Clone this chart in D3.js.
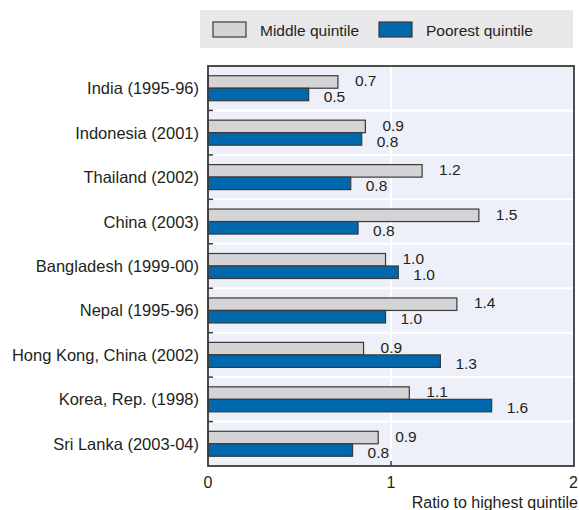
<!DOCTYPE html>
<html>
<head>
<meta charset="utf-8">
<script src="https://cdn.jsdelivr.net/npm/d3@7"></script>
<style>
  body { margin: 0; background: #fff; }
  text { font-family: "Liberation Sans", Arial, sans-serif; fill: #231f20; }
</style>
</head>
<body>
<div class="canvas"></div>
<script>
const countries = [
  'India (1995-96)', 'Indonesia (2001)', 'Thailand (2002)', 'China (2003)',
  'Bangladesh (1999-00)', 'Nepal (1995-96)', 'Hong Kong, China (2002)',
  'Korea, Rep. (1998)', 'Sri Lanka (2003-04)'
];
const middle = [0.71, 0.86, 1.17, 1.48, 0.97, 1.36, 0.85, 1.10, 0.93];
const poorest = [0.55, 0.84, 0.78, 0.82, 1.04, 0.97, 1.27, 1.55, 0.79];
const middleLabels = ['0.7', '0.9', '1.2', '1.5', '1.0', '1.4', '0.9', '1.1', '0.9'];
const poorestLabels = ['0.5', '0.8', '0.8', '0.8', '1.0', '1.0', '1.3', '1.6', '0.8'];
const seriesNames = ['Middle quintile', 'Poorest quintile'];
const xTicks = [0, 1, 2];

const colors = { middle: '#d4d4d6', poorest: '#0068ad' };
const W = 579, H = 510;

const svg = d3.select('.canvas')
  .append('svg')
  .attr('width', W)
  .attr('height', H);

// legend box
const legend = svg.append('g');
legend.append('rect')
  .attr('x', 200).attr('y', 10).attr('width', 373).attr('height', 38)
  .attr('fill', '#e8e8ea');
const legendItems = [
  { name: seriesNames[0], fill: colors.middle, x: 213 },
  { name: seriesNames[1], fill: colors.poorest, x: 379 }
];
legendItems.forEach(d => {
  legend.append('rect')
    .attr('x', d.x).attr('y', 22).attr('width', 33).attr('height', 15)
    .attr('fill', d.fill).attr('stroke', '#3a3a3a').attr('stroke-width', 1.2);
  legend.append('text')
    .attr('x', d.x + 47).attr('y', 35.5)
    .attr('font-size', 15.5)
    .text(d.name);
});

const m = { left: 208, right: 574, top: 66, bottom: 466 };

const x = d3.scaleLinear().domain([0, 2]).range([m.left, m.right]);
const y = d3.scaleBand().domain(countries).range([m.top, m.bottom]);

// plot background
svg.append('rect')
  .attr('x', m.left).attr('y', m.top)
  .attr('width', m.right - m.left).attr('height', m.bottom - m.top)
  .attr('fill', '#edf0f8');

// horizontal gridlines between groups
svg.append('g')
  .selectAll('line')
  .data(countries.slice(1))
  .join('line')
  .attr('x1', m.left).attr('x2', m.right)
  .attr('y1', d => y(d)).attr('y2', d => y(d))
  .attr('stroke', '#fff').attr('stroke-width', 2);

// vertical gridline
svg.append('line')
  .attr('x1', x(1)).attr('x2', x(1))
  .attr('y1', m.top).attr('y2', m.bottom)
  .attr('stroke', '#fff').attr('stroke-width', 2);

const barH = 12.5;
const groups = svg.append('g')
  .selectAll('g')
  .data(countries)
  .join('g')
  .attr('transform', d => `translate(0, ${y(d) + y.bandwidth() / 2})`);

groups.append('rect')
  .attr('x', x(0))
  .attr('y', -barH)
  .attr('width', (d, i) => x(middle[i]) - x(0))
  .attr('height', barH)
  .attr('fill', colors.middle)
  .attr('stroke', '#3a3a3a').attr('stroke-width', 1.2);

groups.append('rect')
  .attr('x', x(0))
  .attr('y', 0)
  .attr('width', (d, i) => x(poorest[i]) - x(0))
  .attr('height', barH)
  .attr('fill', colors.poorest)
  .attr('stroke', '#3a3a3a').attr('stroke-width', 1.2);

groups.append('text')
  .attr('x', (d, i) => x(middle[i]) + 17)
  .attr('y', -2)
  .attr('font-size', 15.5)
  .text((d, i) => middleLabels[i]);

groups.append('text')
  .attr('x', (d, i) => x(poorest[i]) + 15)
  .attr('y', 14)
  .attr('font-size', 15.5)
  .text((d, i) => poorestLabels[i]);

// category labels
groups.append('text')
  .attr('x', m.left - 9)
  .attr('y', 6)
  .attr('text-anchor', 'end')
  .attr('font-size', 16.5)
  .text(d => d);

// left ticks at group boundaries
svg.append('g')
  .selectAll('line')
  .data(countries.slice(1))
  .join('line')
  .attr('x1', m.left).attr('x2', m.left + 5)
  .attr('y1', d => y(d)).attr('y2', d => y(d))
  .attr('stroke', '#3a3a3a').attr('stroke-width', 1.5);

// bottom ticks
svg.append('g')
  .selectAll('line')
  .data(xTicks.slice(1, -1))
  .join('line')
  .attr('x1', d => x(d)).attr('x2', d => x(d))
  .attr('y1', m.bottom).attr('y2', m.bottom - 5)
  .attr('stroke', '#3a3a3a').attr('stroke-width', 1.5);

// frame
svg.append('rect')
  .attr('x', m.left).attr('y', m.top)
  .attr('width', m.right - m.left).attr('height', m.bottom - m.top)
  .attr('fill', 'none').attr('stroke', '#3a3a3a').attr('stroke-width', 1.8);

// x tick labels
svg.append('g')
  .selectAll('text')
  .data(xTicks)
  .join('text')
  .attr('x', d => x(d))
  .attr('y', 488)
  .attr('text-anchor', (d, i) => i === xTicks.length - 1 ? 'end' : 'middle')
  .attr('dx', (d, i) => i === xTicks.length - 1 ? 4 : 0)
  .attr('font-size', 16)
  .text(d => d);

svg.append('text')
  .attr('x', 578).attr('y', 508)
  .attr('text-anchor', 'end')
  .attr('font-size', 16)
  .text('Ratio to highest quintile');
</script>
</body>
</html>
